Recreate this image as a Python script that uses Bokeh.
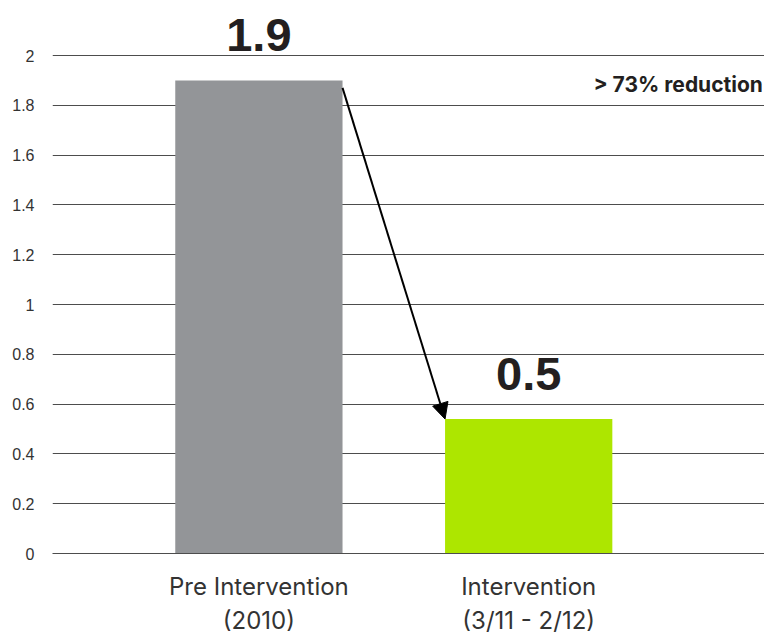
from bokeh.plotting import figure
from bokeh.models import ColumnDataSource, FixedTicker, Arrow, NormalHead, Label, Range1d
from bokeh.core.properties import value
from bokeh.embed import file_html
from bokeh.resources import INLINE

categories = ["Pre Intervention\n(2010)", "Intervention\n(3/11 - 2/12)"]
positions = [1, 2]
values = [1.9, 0.54]
value_labels = ["1.9", "0.5"]
colors = ["#939598", "#ade600"]
y_ticks = [0, 0.2, 0.4, 0.6, 0.8, 1.0, 1.2, 1.4, 1.6, 1.8, 2.0]
y_tick_labels = ["0", "0.2", "0.4", "0.6", "0.8", "1", "1.2", "1.4", "1.6", "1.8", "2"]
annotation_text = "> 73% reduction"

bar_w = 0.62

src = ColumnDataSource(dict(x=positions, top=values, color=colors, lbl=value_labels))

p = figure(width=764, height=638, output_backend="svg", toolbar_location=None,
           x_range=Range1d(0.235, 2.874), y_range=Range1d(0, 2.221),
           min_border_left=52, min_border_right=0, min_border_top=0, min_border_bottom=85)
p.outline_line_color = None
p.background_fill_color = "white"
p.border_fill_color = "white"

p.vbar(x="x", top="top", width=bar_w, color="color", source=src, line_color=None)

p.text(x="x", y="top", text="lbl", source=src, text_align="center", text_baseline="bottom",
       y_offset=-29, text_font=value("Liberation Sans"), text_font_style="bold",
       text_font_size="47px", text_color="#231f20")

# y axis
p.yaxis.ticker = FixedTicker(ticks=y_ticks)
p.yaxis.major_label_overrides = {t: l for t, l in zip(y_ticks, y_tick_labels)}
p.yaxis.axis_line_color = None
p.yaxis.major_tick_line_color = None
p.yaxis.minor_tick_line_color = None
p.yaxis.major_label_text_font = "Liberation Sans"
p.yaxis.major_label_text_font_size = "16px"
p.yaxis.major_label_text_color = "#333333"
p.yaxis.major_label_standoff = 12

p.ygrid.ticker = FixedTicker(ticks=y_ticks)
p.ygrid.grid_line_color = "#4d4d4d"
p.ygrid.grid_line_width = 1
p.xgrid.grid_line_color = None

# x axis
p.xaxis.ticker = FixedTicker(ticks=positions)
p.xaxis.major_label_overrides = {x: c for x, c in zip(positions, categories)}
p.xaxis.axis_line_color = "#4d4d4d"
p.xaxis.major_tick_line_color = None
p.xaxis.minor_tick_line_color = None
p.xaxis.major_label_text_font = "Inter"
p.xaxis.major_label_text_font_style = "normal"
p.xaxis.major_label_text_font_size = "24px"
p.xaxis.major_label_text_color = "#333333"
p.xaxis.major_label_standoff = 12

# arrow from top-right of first bar to top-left of second bar
p.add_layout(Arrow(end=NormalHead(size=16, fill_color="black", line_color="black"),
                   x_start=positions[0] + bar_w / 2, y_start=values[0] - 0.03,
                   x_end=positions[1] - bar_w / 2, y_end=values[1],
                   line_color="black", line_width=2))

p.add_layout(Label(x=2.868, y=1.885, text=annotation_text,
                   text_align="right", text_baseline="middle", text_font="Inter",
                   text_font_style="bold", text_font_size="21px", text_color="#231f20"))

open("out.html", "w").write(file_html(p, INLINE))
